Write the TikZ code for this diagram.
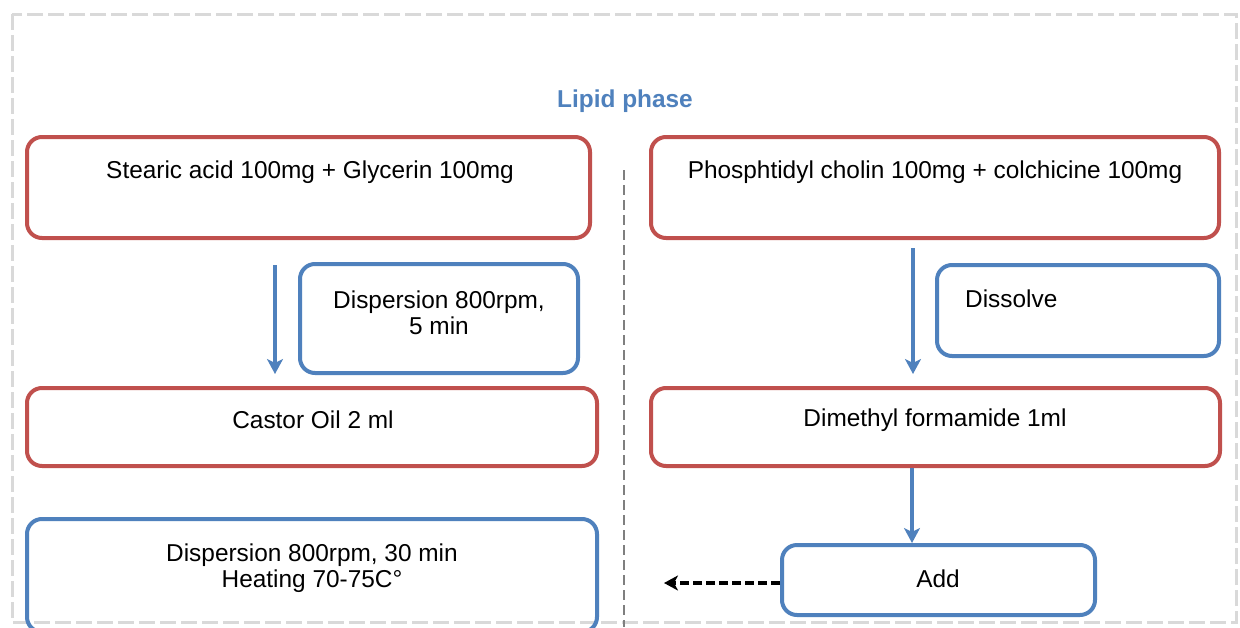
\documentclass[tikz,border=0pt]{standalone}
\usepackage{fontspec}
\setmainfont{Liberation Sans}
\usetikzlibrary{arrows.meta}
\definecolor{boxred}{HTML}{C0504D}
\definecolor{boxblue}{HTML}{4F81BD}
\definecolor{framegray}{HTML}{D9D9D9}
\definecolor{divgray}{HTML}{7F7F7F}
\begin{document}
\begin{tikzpicture}[x=1pt,y=-1pt,
  box/.style={draw, rounded corners=15pt, line width=4pt, inner sep=0pt},
  redbox/.style={box, draw=boxred},
  bluebox/.style={box, draw=boxblue},
  txt/.style={font=\fontsize{24.4}{26}\selectfont, align=center, inner sep=0pt},
  flow/.style={draw=boxblue, line width=3.2pt, -{Stealth[length=15pt,width=16pt,inset=4pt]}},
  dasharrow/.style={draw=black, line width=3.6pt, dash pattern=on 9pt off 4pt, -{Stealth[length=14pt,width=15pt,inset=4pt]}},
]
\clip (0,0) rectangle (1240,627);
\fill[white] (0,0) rectangle (1240,627);
\draw[framegray, line width=3pt, dash pattern=on 16pt off 5pt] (12,14) rectangle (1236,622);

% divider
\coordinate (divtop) at (624,170);
\coordinate (divbot) at (624,627);
\draw[divgray, line width=2pt, dash pattern=on 10pt off 5pt] (divtop) -- (divbot);

% title
\node[txt, font=\fontsize{24.4}{27}\selectfont\bfseries, text=boxblue] (title) at (625,101) {Lipid phase};

% boxes
\node[redbox, minimum width=563, minimum height=101] (b1) at (308.5,187.5) {};
\node[redbox, minimum width=568, minimum height=101] (b2) at (935,187.5) {};
\node[bluebox, minimum width=278, minimum height=109] (d5) at (439,318.5) {};
\node[redbox, minimum width=570, minimum height=78] (castor) at (312,427) {};
\node[bluebox, minimum width=570, minimum height=113] (d30) at (312,575.5) {};
\node[bluebox, minimum width=282, minimum height=91] (diss) at (1078,310.5) {};
\node[redbox, minimum width=569, minimum height=78] (dmf) at (935.5,427) {};
\node[bluebox, minimum width=313, minimum height=70] (add) at (938.5,580) {};

% texts
\node[txt] (t1) at (310,172) {Stearic acid 100mg + Glycerin 100mg};
\node[txt] (t2) at (935,172) {Phosphtidyl cholin 100mg + colchicine 100mg};
\node[txt] (t3) at (439,313) {Dispersion 800rpm,\\ 5 min};
\node[txt] (tcastor) at (313,420) {Castor Oil 2 ml};
\node[txt] (t30) at (312,568) {Dispersion 800rpm, 30 min\\ Heating 70-75C°};
\node[txt, anchor=west] (tdiss) at (965,299) {Dissolve};
\node[txt] (tdmf) at (935,420) {Dimethyl formamide 1ml};
\node[txt] (tadd) at (938,579) {Add};

% arrows
\coordinate (la1) at (275,265);
\coordinate (la2) at (275,374);
\draw[flow] (la1) -- (la2);
\coordinate (ra1) at (913,248);
\coordinate (ra2) at (913,374);
\draw[flow] (ra1) -- (ra2);
\coordinate (ax) at (912,0);
\draw[flow] (dmf.south -| ax) -- (add.north -| ax);
\coordinate (dashend) at (664,583);
\draw[dasharrow] (add.west |- dashend) -- (dashend);
\end{tikzpicture}
\end{document}
